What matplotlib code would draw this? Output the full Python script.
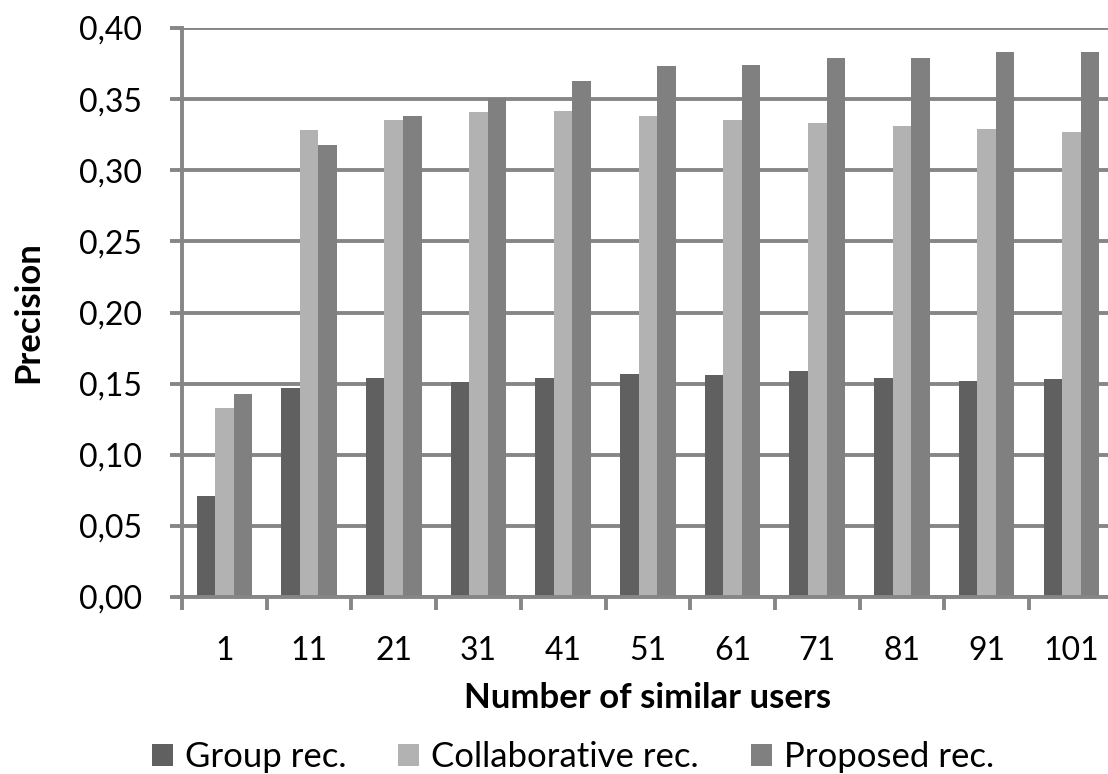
import matplotlib
matplotlib.use('Agg')
import matplotlib.pyplot as plt
import numpy as np

# values
users = ['1', '11', '21', '31', '41', '51', '61', '71', '81', '91', '101']
group_rec = [0.071, 0.147, 0.154, 0.151, 0.154, 0.157, 0.156, 0.159, 0.154, 0.152, 0.153]
collab_rec = [0.133, 0.328, 0.335, 0.341, 0.342, 0.338, 0.335, 0.333, 0.331, 0.329, 0.327]
proposed_rec = [0.143, 0.318, 0.338, 0.351, 0.363, 0.373, 0.374, 0.379, 0.379, 0.383, 0.383]
series_names = ['Group rec.', 'Collaborative rec.', 'Proposed rec.']
y_ticks = [0.00, 0.05, 0.10, 0.15, 0.20, 0.25, 0.30, 0.35, 0.40]

plt.rcParams['font.family'] = ['Lato', 'DejaVu Sans']
grey = '#868686'
lw = 2.8

fig = plt.figure(figsize=(11.08, 7.74), dpi=100)
# plot area runs a little past the right edge, like the cropped original
ax = fig.add_axes([182 / 1108, 1 - 597 / 774, 931.7 / 1108, 569 / 774])

x = np.arange(len(users))
w = 0.2185
b1 = ax.bar(x - w, group_rec, w, color='#606060', zorder=3)
b2 = ax.bar(x, collab_rec, w, color='#b2b2b2', zorder=3)
b3 = ax.bar(x + w, proposed_rec, w, color='#808080', zorder=3)

ax.set_xlim(-0.5, len(users) - 0.5)
ax.set_ylim(0, 0.4)
ax.set_yticks(y_ticks)
ax.set_yticklabels([f'{v:.2f}'.replace('.', ',') for v in y_ticks])
ax.yaxis.grid(True, color=grey, linewidth=lw, zorder=0)
ax.set_axisbelow(True)

# category labels in the middle, tick marks between categories
ax.set_xticks(x)
ax.set_xticklabels(users)
ax.set_xticks(np.arange(len(users) + 1) - 0.5, minor=True)
ax.tick_params(axis='x', which='major', length=0, pad=28, labelsize=23)
ax.tick_params(axis='x', which='minor', length=9, width=lw, color=grey)
ax.tick_params(axis='y', length=9, width=lw, color=grey, pad=20, labelsize=23)

for s in ['top', 'right']:
    ax.spines[s].set_visible(False)
for s in ['left', 'bottom']:
    ax.spines[s].set_color(grey)
    ax.spines[s].set_linewidth(lw)
    ax.spines[s].set_zorder(4)

ax.set_ylabel('Precision', fontsize=25, fontweight='bold')
ax.yaxis.set_label_coords(-0.148, 0.5)
ax.set_xlabel('Number of similar users', fontsize=25, fontweight='bold')
ax.xaxis.set_label_coords(0.5, -0.15)

fig.legend([b1, b2, b3], series_names, loc='center', bbox_to_anchor=(573 / 1108, 1 - 757 / 774),
           ncol=3, frameon=False, fontsize=25, handlelength=0.6, handleheight=0.6,
           handletextpad=0.35, columnspacing=1.5, borderpad=0, borderaxespad=0)

fig.savefig('out.png', dpi=100)
